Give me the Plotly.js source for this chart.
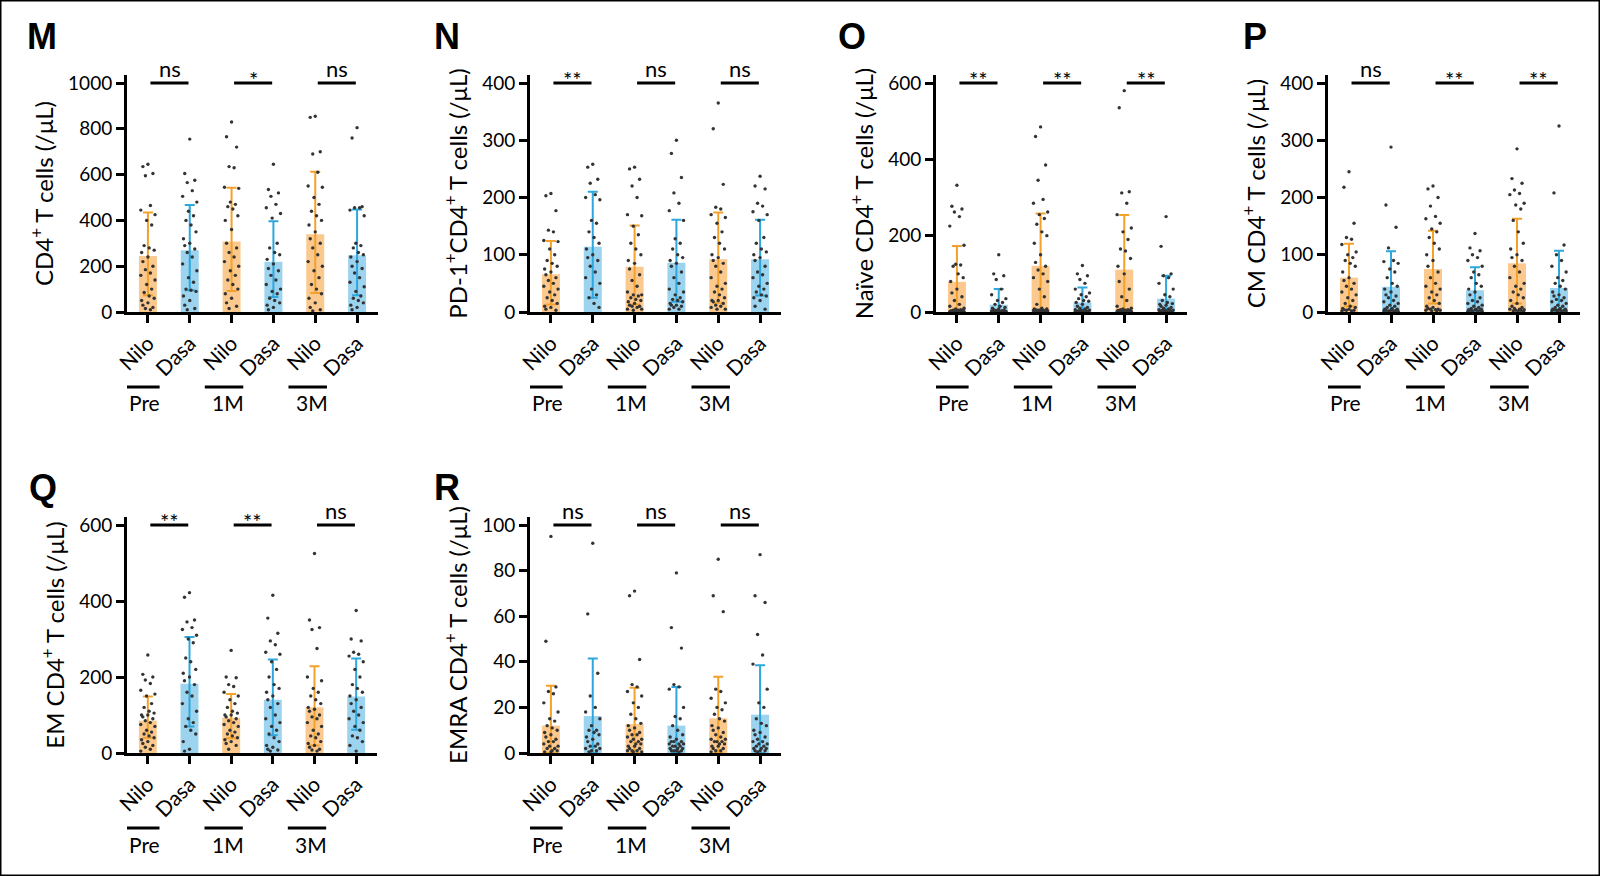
<!DOCTYPE html>
<html>
<head>
<meta charset="utf-8">
<script src="https://cdn.plot.ly/plotly-3.0.1.min.js"></script>
<style>html,body{margin:0;padding:0;background:#fff;}#chart{width:1600px;height:876px;}</style>
</head>
<body>
<div id="chart"></div>
<script>
// ---------- data ----------
const drugs = ['Nilo', 'Dasa', 'Nilo', 'Dasa', 'Nilo', 'Dasa'];
const timepoints = ['Pre', '1M', '3M'];

// M: CD4+ T cells
const cd4Mean = [244, 270, 308, 219, 339, 248];
const cd4Hi = [435, 467, 543, 396, 612, 448];
const cd4Lo = [73, 95, 92, 66, 83, 73];
const cd4Sig = ['ns', '*', 'ns'];
const cd4Pts = [
  [645,635,605,595,465,445,425,400,380,290,280,270,260,240,220,200,185,170,160,140,120,100,85,70,60,50,40,30,20,15,10],
  [755,605,575,565,530,505,480,440,420,400,380,350,320,300,290,275,260,240,210,180,150,130,100,95,90,70,50,30,15,10],
  [830,765,720,635,630,545,540,480,470,460,450,420,400,360,300,280,260,240,220,200,180,160,140,120,100,80,60,40,25,15],
  [645,535,520,505,470,455,430,410,300,280,260,250,230,210,190,180,160,140,120,100,90,80,60,50,40,30,20,10],
  [855,850,700,690,610,550,545,500,470,440,420,400,380,350,320,300,280,250,220,200,180,150,120,100,80,60,40,20,10,5],
  [805,760,460,455,455,445,420,300,290,280,260,250,240,220,200,190,170,150,130,110,90,70,60,50,40,30,20,10]
];

// N: PD-1+CD4+ T cells
const pd1Mean = [66, 114, 79, 86, 92, 92];
const pd1Hi = [124, 210, 151, 161, 174, 161];
const pd1Lo = [13, 25, 13, 18, 16, 29];
const pd1Sig = ['**', 'ns', 'ns'];
const pd1Pts = [
  [207,203,177,143,140,125,123,110,100,90,85,80,75,70,65,60,55,50,45,40,35,30,25,20,15,10,8,5,3],
  [258,253,232,225,205,200,196,160,155,140,130,120,110,100,95,90,80,70,60,50,40,30,25,15,8],
  [253,250,232,220,200,170,168,150,135,120,110,100,90,85,75,65,55,45,35,30,30,28,25,22,20,18,15,12,10,10,8,5,5,3],
  [300,277,235,208,190,177,160,128,120,110,100,95,90,85,80,70,60,50,40,35,30,25,22,20,18,15,12,12,10,8,5,5],
  [365,320,223,183,180,170,165,155,140,130,120,110,100,95,90,85,80,70,60,50,45,40,35,30,25,20,20,18,15,12,10,8,5,5],
  [237,220,215,190,185,175,170,160,130,120,110,105,100,95,90,80,70,65,60,50,45,40,35,30,28,25,20,10,5]
];

// O: Naive CD4+ T cells
const naiveMean = [79, 19, 121, 25, 111, 35];
const naiveHi = [173, 60, 258, 64, 254, 95];
const naiveLo = [0, 0, 0, 0, 0, 0];
const naiveSig = ['**', '**', '**'];
const naivePts = [
  [332,277,270,262,250,225,175,125,123,120,100,90,80,60,50,40,30,20,15,10,8,6,5,5,4,3,3,2,2,2,1,1,1],
  [150,100,95,85,60,45,35,30,25,20,15,12,10,8,6,5,4,3,3,2,2,2,2,1,1,1,1,1,1,1,0.5,0.5,0.5],
  [485,460,385,345,295,285,262,255,245,230,210,200,180,150,130,120,110,100,90,80,60,40,20,10,8,8,6,6,5,5,4,4,3,3,2,2,2,1,1],
  [122,100,95,85,75,60,50,45,40,35,30,28,25,20,15,12,10,8,6,5,4,4,3,3,2,2,2,2,1,1,1,1],
  [580,535,315,312,285,255,220,210,190,165,160,140,120,100,80,60,40,30,15,10,8,6,6,5,4,4,3,3,2,2,2,1,1,1,1],
  [250,172,100,95,90,75,60,45,40,30,25,22,20,18,15,12,10,8,6,5,5,4,4,3,3,2,2,2,1,1]
];

// P: CM CD4+ T cells
const cmMean = [60, 44, 75, 38, 85, 42];
const cmHi = [119, 106, 142, 78, 163, 107];
const cmLo = [10, 0, 15, 0, 15, 0];
const cmSig = ['ns', '**', '**'];
const cmPts = [
  [245,218,155,130,127,118,105,100,95,90,85,80,70,60,55,50,45,40,35,30,25,20,15,10,8,6,5,4,3,3,2,2],
  [288,187,148,112,90,88,85,75,70,60,50,45,40,35,30,28,25,20,18,15,12,10,8,6,5,5,4,3,3,2,2,2,1,1,1],
  [220,215,200,185,167,163,155,145,140,130,120,110,100,90,80,70,60,50,45,40,35,30,25,20,15,10,8,6,5,5,4,3,3,2,2],
  [137,112,107,100,95,90,80,70,65,60,50,45,40,35,30,25,20,18,15,12,10,8,6,5,5,4,4,3,3,2,2,1,1],
  [285,233,225,213,207,205,190,187,180,160,140,120,110,100,95,90,80,70,60,50,45,40,35,30,25,20,15,10,8,6,5,5,4,3,3,2,2,1],
  [325,208,117,100,90,80,70,60,55,50,45,40,35,30,28,25,22,20,18,15,12,10,8,6,5,5,4,4,3,3,2,2,2,1]
];

// Q: EM CD4+ T cells
const emMean = [85, 182, 93, 140, 120, 149];
const emHi = [149, 305, 155, 246, 228, 249];
const emLo = [40, 70, 39, 47, 20, 61];
const emSig = ['**', '**', 'ns'];
const emPts = [
  [258,207,200,192,183,165,155,150,130,120,110,105,100,100,95,90,85,80,75,70,60,55,50,45,40,35,30,25,20,15,10,5],
  [422,410,350,345,330,325,310,300,290,250,240,220,210,200,190,180,160,150,130,110,90,80,70,60,50,30,10,5],
  [270,200,198,180,175,160,150,140,130,120,110,105,100,100,95,90,85,80,75,70,60,55,50,45,40,35,30,25,20,10],
  [415,355,315,295,285,265,260,240,220,200,180,170,160,150,140,130,120,100,90,80,70,60,50,40,30,20,15,10,8,5],
  [525,350,330,325,275,200,190,170,160,150,140,130,120,115,110,100,95,90,80,70,60,50,45,40,30,25,20,15,10,8,5],
  [375,300,295,265,260,255,240,220,200,180,170,160,150,140,130,120,110,100,90,80,70,60,45,40,30,20,5]
];

// R: EMRA CD4+ T cells
const emraMean = [12, 16.2, 12.7, 12, 15.2, 16.8];
const emraHi = [29.5, 41.5, 28.6, 29, 33.4, 38.5];
const emraLo = [0, 0, 0, 0, 0, 0];
const emraSig = ['ns', 'ns', 'ns'];
const emraPts = [
  [95,49,29,27,26,22,18,15,14,12,11,10,9,8,7,6,5,5,4,3,3,2,2,1,1,0.5,0.5],
  [92,61,35,25,20,18,15,12,10,10,9,8,7,6,5,4,3,3,2,2,1,1,0.5],
  [71,69,41,30,29,27,25,22,20,17,15,13,12,11,10,9,8,8,7,6,6,5,5,4,4,3,3,2,2,1,1,1,0.5,0.5],
  [79,55,46,30,29,28,20,16,15,12,10,8,7,6,5,5,5,4,4,4,3,3,3,2,2,2,1,1,1,1,0.5],
  [85,69,62,28,27,24,22,20,19,17,15,14,12,11,10,9,8,7,6,6,5,5,5,4,4,3,3,2,2,1,1,0.5],
  [87,69,66,52,43,39,28,22,20,15,13,12,10,9,8,7,6,5,5,4,4,3,3,2,2,2,1,1,1,0.5]
];

// ---------- panels ----------
const FONT = 'Lato, "Open Sans", sans-serif';
const ORANGE_BAR = '#FBC98E', ORANGE_ERR = '#F4A12C';
const BLUE_BAR = '#9CD3EE', BLUE_ERR = '#2EA7DD';
const W = 1600, H = 876;

const panels = [
  {letter:'M', title:'CD4<sup>+</sup> T cells (/μL)', mean:cd4Mean, hi:cd4Hi, lo:cd4Lo, pts:cd4Pts, sig:cd4Sig, max:1000, dtick:200, px:[127,378], row:0, lp:[42,37]},
  {letter:'N', title:'PD-1<sup>+</sup>CD4<sup>+</sup> T cells (/μL)', mean:pd1Mean, hi:pd1Hi, lo:pd1Lo, pts:pd1Pts, sig:pd1Sig, max:400, dtick:100, px:[530,781], row:0, lp:[447,37]},
  {letter:'O', title:'Naïve CD4<sup>+</sup> T cells (/μL)', mean:naiveMean, hi:naiveHi, lo:naiveLo, pts:naivePts, sig:naiveSig, max:600, dtick:200, px:[936,1187], row:0, lp:[852,37]},
  {letter:'P', title:'CM CD4<sup>+</sup> T cells (/μL)', mean:cmMean, hi:cmHi, lo:cmLo, pts:cmPts, sig:cmSig, max:400, dtick:100, px:[1328,1580], row:0, lp:[1255,37]},
  {letter:'Q', title:'EM CD4<sup>+</sup> T cells (/μL)', mean:emMean, hi:emHi, lo:emLo, pts:emPts, sig:emSig, max:600, dtick:200, px:[127,377], row:1, lp:[43,487]},
  {letter:'R', title:'EMRA CD4<sup>+</sup> T cells (/μL)', mean:emraMean, hi:emraHi, lo:emraLo, pts:emraPts, sig:emraSig, max:100, dtick:20, px:[530,781], row:1, lp:[447,487]}
];
// row pixel geometry: [axis top, max tick, zero line]
const rows = [[75, 83, 312], [517, 525, 753]];

const jit = [0, -0.12, 0.12, -0.06, 0.06, -0.17, 0.17, -0.03, 0.09, -0.09, 0.03, 0.15, -0.15];

const traces = [], shapes = [], annotations = [];
const layout = {
  width: W, height: H, margin: {l:0, r:0, t:0, b:0},
  paper_bgcolor: '#fff', plot_bgcolor: 'rgba(0,0,0,0)',
  showlegend: false, barmode: 'overlay',
  font: {family: FONT, color: '#000'}
};

panels.forEach((p, i) => {
  const n = i + 1;
  const xa = 'x' + (n === 1 ? '' : n), ya = 'y' + (n === 1 ? '' : n);
  const xkey = 'xaxis' + (n === 1 ? '' : n), ykey = 'yaxis' + (n === 1 ? '' : n);
  const r = rows[p.row];
  const plotH = r[2] - r[0], tickH = r[2] - r[1];
  const top = p.max * plotH / tickH;

  layout[xkey] = {
    domain: [p.px[0] / W, p.px[1] / W], anchor: ya, range: [-0.5, 5.5],
    tickmode: 'array', tickvals: [0,1,2,3,4,5], ticktext: drugs, tickangle: -45,
    tickfont: {size: 21, family: FONT, color: '#000'},
    showline: true, linewidth: 3, linecolor: '#000', ticks: 'outside', ticklen: 8, tickwidth: 3, tickcolor: '#000',
    showgrid: false, zeroline: false, fixedrange: true
  };
  layout[ykey] = {
    domain: [(H - r[2]) / H, (H - r[0]) / H], anchor: xa, range: [0, top],
    tickmode: 'linear', tick0: 0, dtick: p.dtick,
    tickfont: {size: 19, family: FONT, color: '#000'},
    title: {text: p.title, font: {size: 24, family: FONT, color: '#000'}, standoff: 8},
    showline: true, linewidth: 3, linecolor: '#000', ticks: 'outside', ticklen: 8, tickwidth: 3, tickcolor: '#000',
    showgrid: false, zeroline: false, fixedrange: true
  };

  // bars with error bars
  [[0, ORANGE_BAR, ORANGE_ERR], [1, BLUE_BAR, BLUE_ERR]].forEach(([off, bc, ec]) => {
    const idx = [off, off + 2, off + 4];
    traces.push({
      type: 'bar', xaxis: xa, yaxis: ya, x: idx, y: idx.map(k => p.mean[k]), width: 0.43,
      marker: {color: bc, line: {width: 0}},
      error_y: {type: 'data', symmetric: false,
        array: idx.map(k => p.hi[k] - p.mean[k]),
        arrayminus: idx.map(k => p.mean[k] - p.lo[k]),
        color: ec, thickness: 2, width: 5},
      hoverinfo: 'skip'
    });
  });

  // individual dots
  const dx = [], dy = [];
  p.pts.forEach((arr, k) => {
    arr.forEach((v, j) => { dx.push(k + jit[j % jit.length]); dy.push(v); });
  });
  traces.push({
    type: 'scatter', mode: 'markers', xaxis: xa, yaxis: ya, x: dx, y: dy, cliponaxis: false,
    marker: {size: 3.4, color: '#333'}, hoverinfo: 'skip'
  });

  // significance brackets
  p.sig.forEach((s, k) => {
    shapes.push({type: 'line', xref: xa, yref: ya, x0: 2*k + 0.06, x1: 2*k + 0.97, y0: p.max, y1: p.max,
      line: {color: '#000', width: 3}});
    annotations.push({xref: xa, yref: ya, x: 2*k + 0.52, y: p.max, text: s, showarrow: false,
      xanchor: 'center', yanchor: 'bottom', yshift: s === 'ns' ? -1 : -12,
      font: {size: 22, family: FONT, color: '#000'}});
  });

  // timepoint group labels
  const ydom = `${ya} domain`;
  timepoints.forEach((t, k) => {
    shapes.push({type: 'line', xref: xa, yref: ydom, x0: 2*k - 0.64, x1: 2*k + 0.28,
      y0: -75 / plotH, y1: -75 / plotH, line: {color: '#000', width: 3}});
    annotations.push({xref: xa, yref: ydom, x: 2*k - 0.08, y: -91 / plotH, text: t, showarrow: false,
      xanchor: 'center', yanchor: 'middle', font: {size: 21, family: FONT, color: '#000'}});
  });

  // panel letter
  annotations.push({xref: 'paper', yref: 'paper', x: p.lp[0] / W, y: 1 - p.lp[1] / H, text: '<b>' + p.letter + '</b>',
    showarrow: false, xanchor: 'center', yanchor: 'middle',
    font: {size: 36, family: '"Liberation Sans", Arial, sans-serif', color: '#000'}});
});

// outer frame
shapes.push({type: 'rect', xref: 'paper', yref: 'paper', x0: 0, x1: 1, y0: 0, y1: 1, line: {color: '#000', width: 3}});

layout.shapes = shapes;
layout.annotations = annotations;

Plotly.newPlot('chart', traces, layout, {displayModeBar: false, staticPlot: true});
</script>
</body>
</html>
